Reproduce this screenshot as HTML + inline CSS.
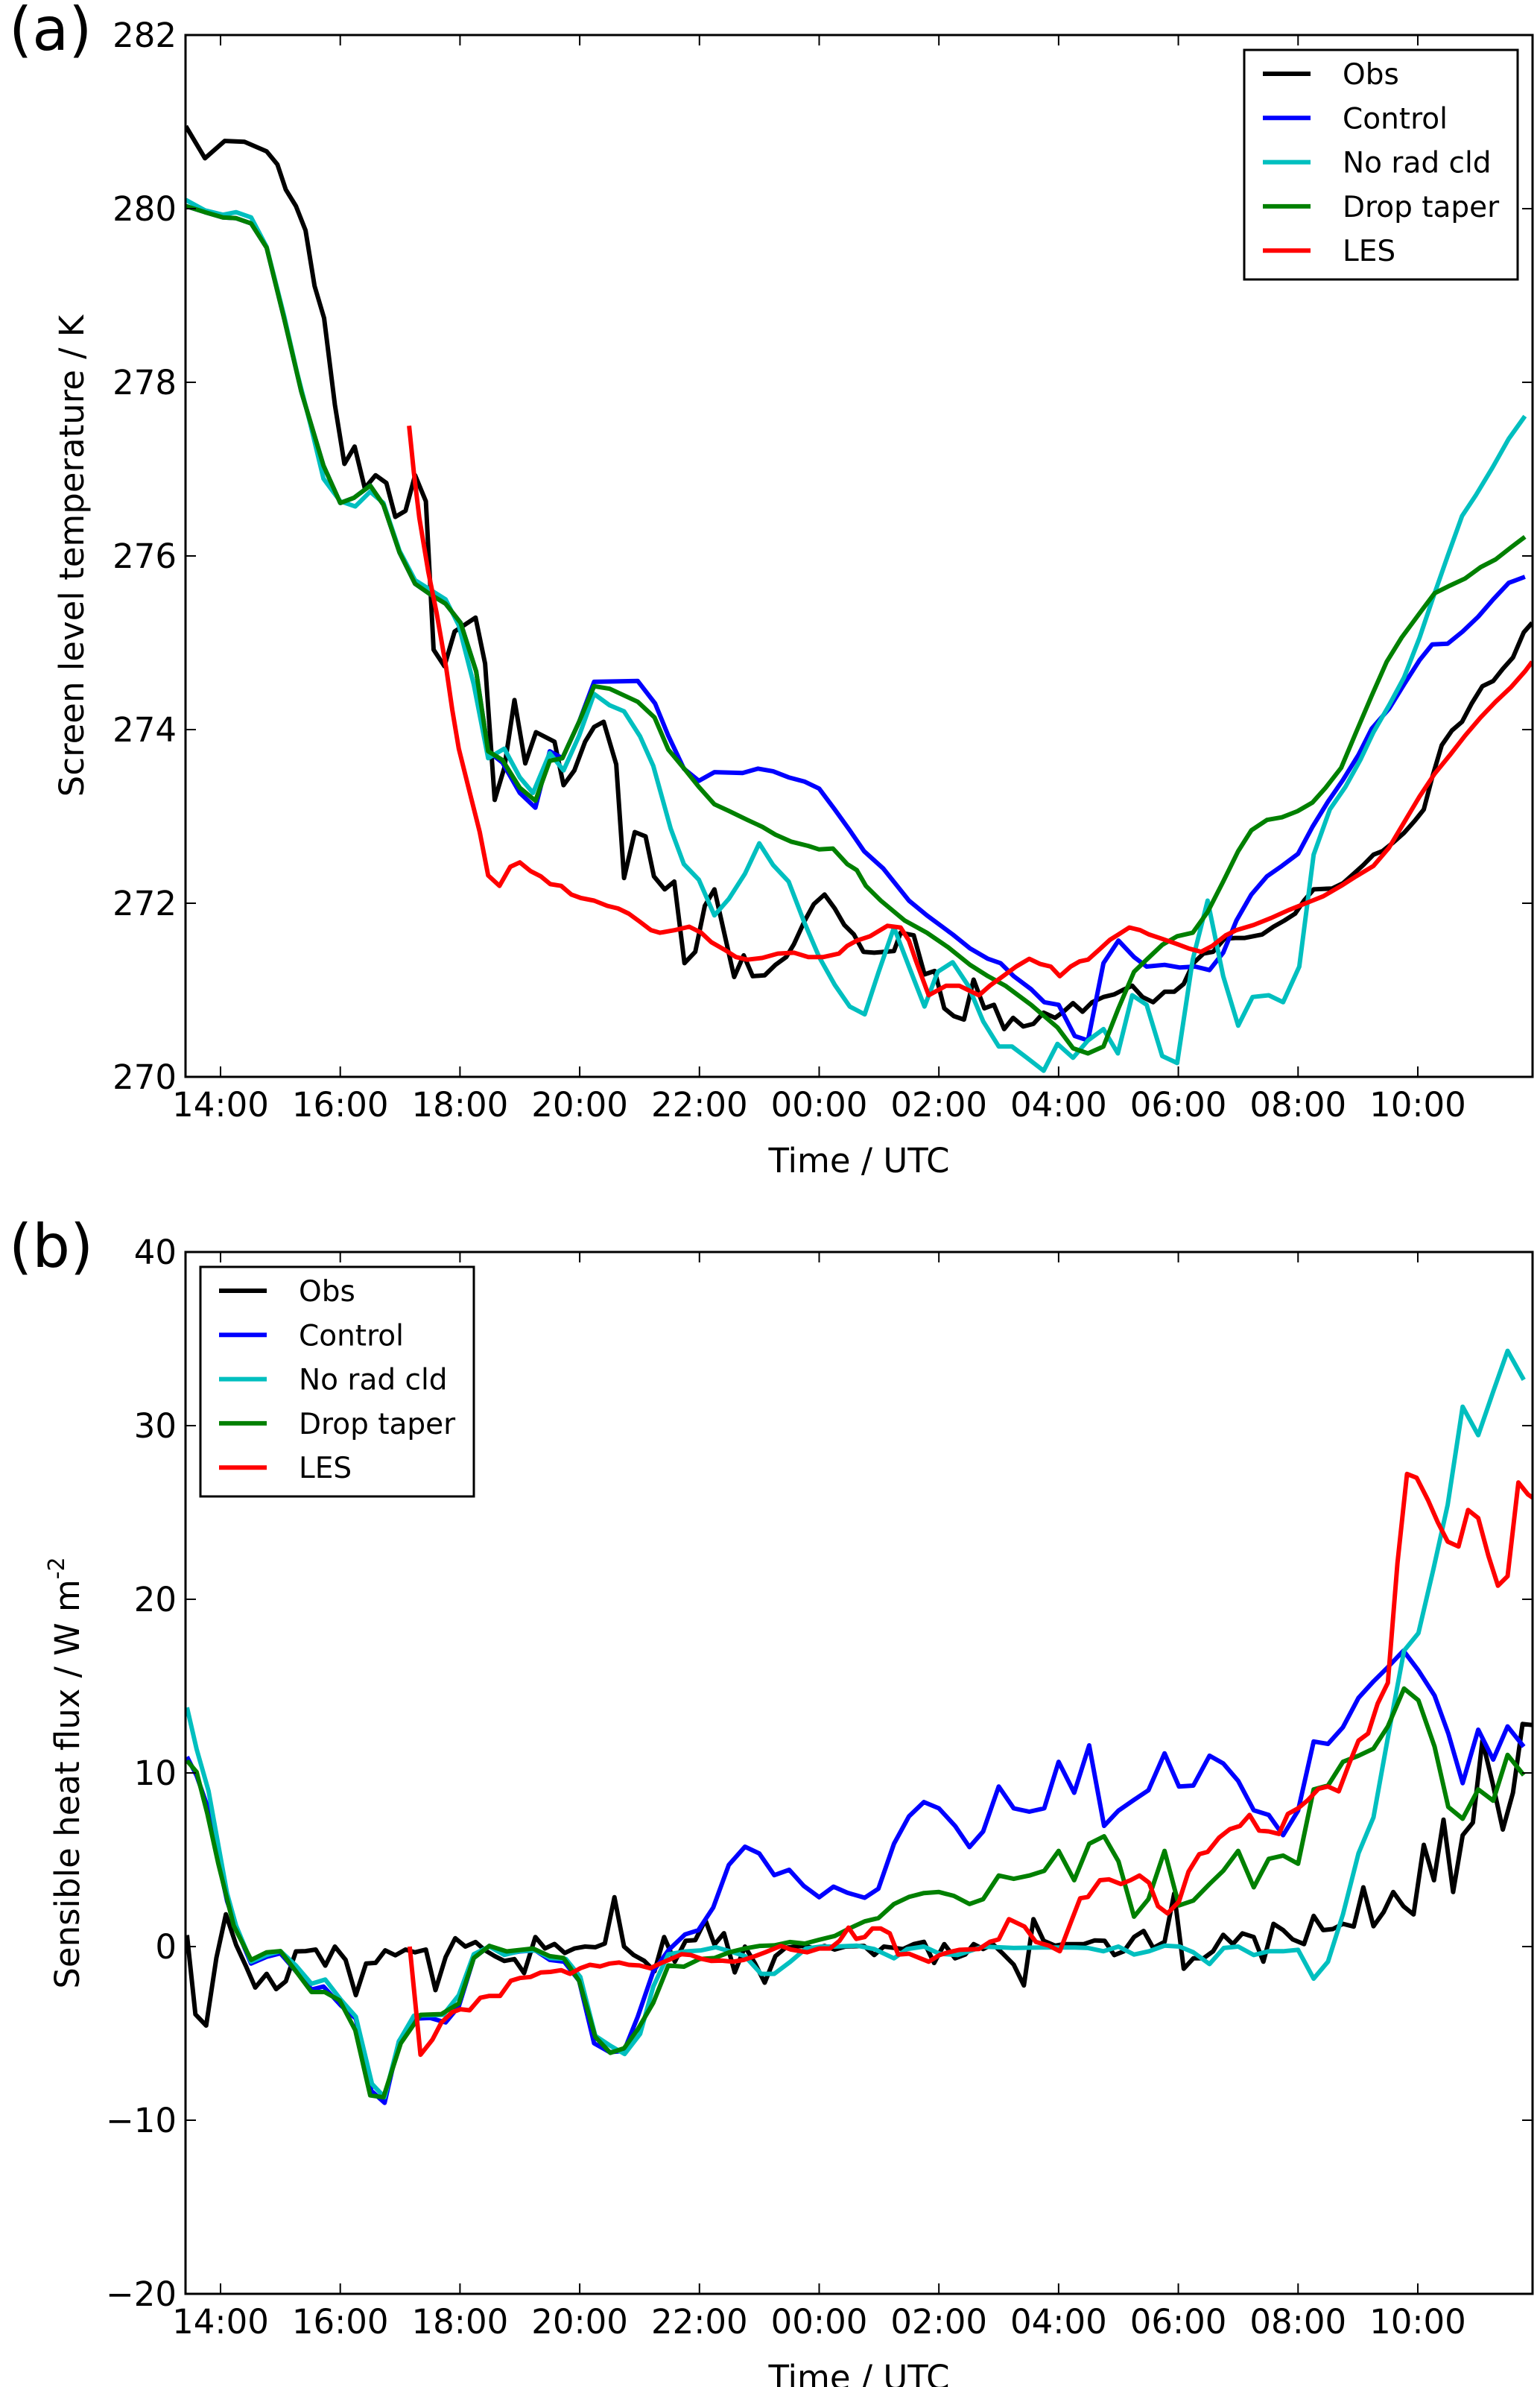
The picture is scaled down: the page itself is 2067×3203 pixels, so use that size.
<!DOCTYPE html>
<html><head><meta charset="utf-8"><title>Screen temperature and sensible heat flux</title>
<style>
html,body{margin:0;padding:0;background:#fff;}
svg{display:block;font-family:"DejaVu Sans","Liberation Sans",sans-serif;}
</style></head>
<body>
<svg id="fig" width="2067" height="3203" viewBox="0 0 2067 3203" xmlns="http://www.w3.org/2000/svg">
<rect x="0" y="0" width="2067" height="3203" fill="#fff"/>
<g id="panelA"></g>
<g id="panelB"></g>
</svg>
<script>
// ---------- shared ----------
const xTickHours = [14,16,18,20,22,24,26,28,30,32,34];
const xTickLabels = ["14:00","16:00","18:00","20:00","22:00","00:00","02:00","04:00","06:00","08:00","10:00"];
const seriesNames = ["Obs","Control","No rad cld","Drop taper","LES"];
const seriesColors = ["#000000","#0000ff","#00bfbf","#008000","#ff0000"];

// ---------- panel (a): screen level temperature ----------
const aTicks = [270,272,274,276,278,280,282];
const aObsT = [13.42,13.74,14.07,14.40,14.77,14.95,15.09,15.26,15.42,15.57,15.73,15.91,16.07,16.24,16.41,16.59,16.77,16.92,17.09,17.25,17.43,17.56,17.74,17.91,18.26,18.42,18.58,18.74,18.91,19.09,19.27,19.58,19.73,19.91,20.09,20.24,20.40,20.61,20.74,20.92,21.10,21.24,21.42,21.58,21.75,21.93,22.09,22.25,22.58,22.74,22.89,23.09,23.27,23.45,23.58,23.76,23.91,24.09,24.26,24.42,24.58,24.74,24.92,25.25,25.36,25.58,25.76,25.93,26.09,26.25,26.42,26.58,26.76,26.92,27.09,27.24,27.41,27.58,27.75,27.94,28.08,28.24,28.40,28.56,28.75,28.93,29.07,29.23,29.40,29.58,29.77,29.93,30.09,30.25,30.42,30.58,30.77,30.95,31.11,31.40,31.59,31.77,31.95,32.10,32.26,32.57,32.75,32.93,33.09,33.26,33.41,33.59,33.77,33.95,34.10,34.24,34.40,34.57,34.74,34.90,35.08,35.26,35.42,35.59,35.77,35.91];
const aObsV = [280.95,280.58,280.78,280.77,280.66,280.51,280.22,280.03,279.75,279.11,278.74,277.74,277.06,277.26,276.78,276.93,276.84,276.45,276.52,276.93,276.63,274.92,274.73,275.13,275.29,274.76,273.19,273.56,274.34,273.61,273.97,273.86,273.36,273.53,273.86,274.03,274.09,273.6,272.29,272.82,272.77,272.31,272.16,272.25,271.31,271.44,271.97,272.16,271.15,271.40,271.16,271.17,271.29,271.38,271.53,271.80,271.99,272.10,271.94,271.75,271.64,271.44,271.43,271.45,271.66,271.63,271.18,271.22,270.79,270.70,270.66,271.12,270.79,270.83,270.55,270.68,270.58,270.61,270.74,270.68,270.75,270.85,270.75,270.86,270.92,270.95,271.0,271.05,270.92,270.86,270.98,270.98,271.07,271.31,271.42,271.44,271.59,271.6,271.6,271.64,271.73,271.80,271.88,272.03,272.16,272.17,272.23,272.34,272.44,272.56,272.6,272.7,272.81,272.95,273.08,273.45,273.82,273.99,274.09,274.30,274.50,274.56,274.70,274.83,275.12,275.23];
const aCtlT = [13.42,13.74,14.04,14.26,14.51,14.77,15.06,15.35,15.72,16.0,16.23,16.50,16.72,16.99,17.25,17.50,17.76,18.01,18.27,18.47,18.71,19.0,19.26,19.50,19.71,19.99,20.24,20.97,21.26,21.48,21.74,21.99,22.25,22.72,22.98,23.23,23.49,23.76,24.0,24.26,24.51,24.75,25.07,25.5,25.80,26.23,26.52,26.82,27.03,27.25,27.54,27.76,28.0,28.27,28.49,28.75,29.0,29.26,29.47,29.77,30.02,30.28,30.52,30.75,30.97,31.22,31.48,31.73,32.0,32.24,32.50,32.75,33.01,33.23,33.52,33.77,34.03,34.24,34.50,34.75,35.01,35.26,35.52,35.79];
const aCtlV = [280.03,279.96,279.9,279.89,279.83,279.55,278.74,277.89,277.04,276.61,276.67,276.81,276.59,276.04,275.68,275.56,275.45,275.23,274.67,273.75,273.62,273.27,273.1,273.75,273.67,274.09,274.55,274.56,274.3,273.93,273.55,273.41,273.51,273.5,273.55,273.52,273.45,273.4,273.32,273.08,272.84,272.6,272.4,272.03,271.86,271.64,271.48,271.36,271.31,271.16,271.01,270.86,270.83,270.47,270.42,271.31,271.57,271.38,271.27,271.29,271.26,271.27,271.23,271.43,271.8,272.1,272.31,272.43,272.57,272.88,273.17,273.42,273.71,274.01,274.24,274.52,274.8,274.98,274.99,275.13,275.3,275.5,275.69,275.76];
const aNrcT = [13.42,13.74,14.04,14.26,14.51,14.77,15.06,15.28,15.50,15.72,16.0,16.25,16.50,16.72,16.99,17.25,17.76,17.98,18.23,18.47,18.74,19.0,19.22,19.50,19.73,19.99,20.24,20.50,20.74,21.01,21.23,21.52,21.74,21.99,22.25,22.49,22.76,23.0,23.23,23.49,23.74,24.0,24.26,24.51,24.76,24.99,25.25,25.5,25.76,25.98,26.23,26.49,26.74,27.0,27.22,27.47,27.75,27.98,28.24,28.49,28.75,28.99,29.23,29.47,29.73,29.98,30.24,30.49,30.75,31.0,31.24,31.51,31.75,32.02,32.26,32.53,32.79,33.04,33.26,33.52,33.77,34.03,34.24,34.50,34.74,34.97,35.25,35.52,35.79];
const aNrcV = [280.1,279.98,279.93,279.96,279.9,279.56,278.77,278.11,277.52,276.89,276.63,276.57,276.74,276.61,276.06,275.72,275.5,275.2,274.52,273.67,273.78,273.45,273.27,273.73,273.53,273.93,274.41,274.28,274.21,273.92,273.58,272.86,272.45,272.27,271.86,272.05,272.34,272.69,272.44,272.25,271.8,271.38,271.06,270.81,270.72,271.2,271.72,271.27,270.81,271.21,271.32,271.05,270.64,270.35,270.35,270.22,270.07,270.38,270.22,270.42,270.55,270.27,270.94,270.83,270.24,270.16,271.35,272.03,271.16,270.59,270.92,270.94,270.86,271.27,272.56,273.08,273.34,273.65,273.97,274.28,274.6,275.06,275.49,276.0,276.46,276.7,277.02,277.35,277.61];
const aDrpT = [13.42,13.74,14.04,14.26,14.51,14.77,15.06,15.35,15.72,16.0,16.23,16.50,16.72,16.99,17.25,17.50,17.76,18.01,18.27,18.47,18.71,19.0,19.26,19.50,19.71,19.99,20.24,20.50,20.97,21.25,21.48,21.77,21.99,22.25,22.50,22.80,23.05,23.27,23.53,23.82,24.0,24.23,24.47,24.63,24.78,25.03,25.43,25.80,26.16,26.52,26.82,27.11,27.54,27.98,28.24,28.49,28.75,29.0,29.26,29.47,29.73,29.98,30.24,30.49,30.75,31.0,31.22,31.48,31.73,31.99,32.24,32.46,32.72,32.97,33.23,33.48,33.73,34.03,34.28,34.54,34.79,35.05,35.30,35.56,35.79];
const aDrpV = [280.03,279.96,279.9,279.89,279.83,279.55,278.74,277.89,277.04,276.61,276.67,276.81,276.59,276.04,275.68,275.56,275.45,275.23,274.67,273.75,273.65,273.33,273.18,273.64,273.67,274.09,274.5,274.47,274.32,274.14,273.77,273.53,273.34,273.14,273.06,272.96,272.88,272.79,272.71,272.66,272.62,272.63,272.45,272.38,272.2,272.03,271.8,271.66,271.49,271.29,271.16,271.05,270.83,270.57,270.33,270.27,270.35,270.79,271.21,271.35,271.52,271.62,271.66,271.9,272.25,272.6,272.84,272.96,272.99,273.06,273.16,273.33,273.56,273.97,274.39,274.78,275.06,275.34,275.57,275.66,275.74,275.87,275.96,276.1,276.22];
const aLesT = [17.15,17.23,17.32,17.47,17.61,17.77,17.87,17.98,18.14,18.33,18.47,18.66,18.84,19.0,19.18,19.35,19.51,19.69,19.86,20.02,20.24,20.46,20.64,20.82,21.0,21.19,21.34,21.59,21.83,22.03,22.20,22.43,22.61,22.80,23.05,23.31,23.58,23.82,24.07,24.33,24.47,24.63,24.85,25.14,25.36,25.50,25.61,25.83,26.12,26.34,26.67,26.85,27.07,27.29,27.51,27.69,27.87,28.02,28.20,28.35,28.49,28.67,28.86,29.0,29.18,29.36,29.51,29.73,29.98,30.17,30.38,30.57,30.79,30.97,31.26,31.55,31.84,32.13,32.42,32.72,32.97,33.26,33.52,33.77,34.03,34.28,34.54,34.79,35.05,35.30,35.56,35.79,35.91];
const aLesV = [277.5,276.96,276.44,275.82,275.34,274.71,274.23,273.78,273.34,272.82,272.32,272.2,272.42,272.47,272.37,272.31,272.22,272.2,272.1,272.06,272.03,271.97,271.94,271.88,271.79,271.69,271.66,271.69,271.73,271.66,271.55,271.46,271.38,271.35,271.37,271.42,271.43,271.38,271.38,271.42,271.51,271.57,271.62,271.74,271.72,271.57,271.35,270.94,271.05,271.05,270.94,271.05,271.16,271.27,271.36,271.3,271.27,271.16,271.27,271.33,271.35,271.46,271.58,271.64,271.72,271.69,271.64,271.59,271.53,271.48,271.44,271.51,271.63,271.69,271.75,271.83,271.92,272.0,272.08,272.2,272.31,272.43,272.64,272.93,273.23,273.49,273.71,273.93,274.14,274.32,274.49,274.67,274.78];

// ---------- panel (b): sensible heat flux ----------
const bTicks = [-20,-10,0,10,20,30,40];
const bObsT = [13.44,13.58,13.76,13.93,14.09,14.26,14.42,14.58,14.77,14.93,15.09,15.26,15.42,15.59,15.75,15.91,16.09,16.26,16.43,16.59,16.75,16.92,17.09,17.25,17.43,17.59,17.76,17.92,18.09,18.26,18.42,18.58,18.74,18.91,19.07,19.26,19.42,19.58,19.75,19.91,20.09,20.26,20.42,20.58,20.74,20.90,21.08,21.25,21.41,21.59,21.77,21.93,22.10,22.25,22.41,22.59,22.76,22.93,23.09,23.27,23.44,23.60,23.76,23.93,24.09,24.26,24.44,24.75,24.92,25.08,25.40,25.58,25.75,25.92,26.09,26.27,26.44,26.58,26.74,26.90,27.07,27.25,27.42,27.58,27.75,27.94,28.09,28.42,28.60,28.77,28.93,29.09,29.26,29.42,29.58,29.77,29.93,30.09,30.25,30.42,30.58,30.75,30.91,31.07,31.26,31.42,31.59,31.75,31.91,32.10,32.26,32.42,32.58,32.75,32.93,33.09,33.26,33.43,33.59,33.76,33.93,34.10,34.27,34.43,34.59,34.75,34.92,35.08,35.25,35.42,35.59,35.75,35.91];
const bObsV = [0.66,-3.9,-4.55,-0.66,1.86,0.1,-1.1,-2.36,-1.57,-2.45,-2.0,-0.28,-0.26,-0.17,-1.1,0.0,-0.77,-2.8,-0.98,-0.94,-0.22,-0.5,-0.17,-0.33,-0.17,-2.51,-0.61,0.48,0.0,0.26,-0.22,-0.55,-0.83,-0.72,-1.53,0.55,-0.11,0.15,-0.37,-0.11,0.0,-0.04,0.17,2.84,0.0,-0.48,-0.83,-1.42,0.55,-0.87,0.33,0.37,1.53,0.11,0.77,-1.49,0.0,-0.98,-2.08,-0.55,-0.07,0.0,0.04,-0.11,0.04,-0.17,0.0,0.04,-0.49,0.0,-0.14,0.14,0.27,-0.95,0.14,-0.68,-0.46,0.14,-0.14,0.14,-0.41,-1.04,-2.24,1.58,0.33,0.05,0.14,0.14,0.35,0.33,-0.49,-0.27,0.55,0.9,-0.08,0.27,3.05,-1.28,-0.68,-0.68,-0.27,0.68,0.14,0.76,0.55,-0.87,1.31,0.95,0.41,0.14,1.77,0.95,1.01,1.31,1.15,3.41,1.17,1.99,3.14,2.32,1.85,5.86,3.82,7.31,3.14,6.41,7.14,11.86,9.41,6.74,8.86,12.82,12.76];
const bCtlT = [13.44,13.6,13.78,13.96,14.11,14.26,14.51,14.77,15.0,15.26,15.52,15.72,16.01,16.26,16.52,16.74,16.98,17.23,17.50,17.76,17.98,18.23,18.49,18.74,19.0,19.26,19.50,19.74,19.99,20.24,20.50,20.74,20.97,21.23,21.48,21.76,21.98,22.23,22.49,22.76,23.0,23.25,23.50,23.74,24.0,24.24,24.47,24.76,24.99,25.25,25.50,25.75,26.0,26.27,26.51,26.74,27.0,27.25,27.51,27.76,28.0,28.26,28.51,28.76,29.0,29.26,29.50,29.77,30.01,30.25,30.52,30.75,31.0,31.26,31.51,31.75,32.0,32.26,32.50,32.75,33.01,33.26,33.50,33.76,34.01,34.28,34.51,34.75,35.01,35.26,35.50,35.77];
const bCtlV = [10.93,9.84,8.09,5.03,2.62,1.09,-0.98,-0.59,-0.39,-1.42,-2.47,-2.3,-3.39,-4.15,-8.31,-9.0,-5.46,-4.15,-4.11,-4.37,-3.45,-0.66,0.04,-0.44,-0.28,-0.22,-0.77,-0.87,-1.97,-5.57,-6.08,-6.01,-4.04,-1.42,-0.22,0.7,0.94,2.25,4.7,5.75,5.36,4.11,4.42,3.5,2.84,3.45,3.1,2.81,3.33,5.92,7.5,8.32,7.96,6.95,5.73,6.63,9.22,7.96,7.77,7.96,10.64,8.86,11.59,6.95,7.83,8.45,9.0,11.13,9.22,9.27,10.99,10.55,9.54,7.85,7.58,6.41,7.83,11.81,11.67,12.63,14.32,15.27,16.09,17.04,15.9,14.45,12.27,9.41,12.49,10.77,12.68,11.51];
const bNrcT = [13.44,13.6,13.8,13.96,14.11,14.26,14.51,14.77,15.0,15.26,15.52,15.75,16.01,16.26,16.53,16.74,16.98,17.23,17.72,17.98,18.23,18.49,18.74,19.0,19.26,19.51,19.77,20.01,20.26,20.52,20.75,21.01,21.23,21.48,21.77,22.03,22.27,22.50,22.76,23.03,23.25,23.52,23.78,24.04,24.26,24.63,24.92,25.25,25.47,25.75,26.01,26.31,26.74,27.25,27.76,28.27,28.49,28.75,29.0,29.26,29.51,29.77,30.02,30.25,30.52,30.76,31.0,31.26,31.51,31.75,32.0,32.26,32.50,32.75,33.01,33.26,33.52,33.77,34.01,34.26,34.50,34.75,35.01,35.26,35.50,35.77];
const bNrcV = [13.77,11.37,8.96,5.9,3.06,1.2,-0.87,-0.48,-0.26,-1.09,-2.14,-1.9,-3.06,-4.04,-7.91,-8.68,-5.46,-3.98,-3.93,-2.8,-0.44,0,-0.48,-0.26,-0.22,-0.66,-0.72,-1.75,-5.14,-5.73,-6.19,-5.03,-2.3,-0.44,-0.28,-0.22,-0.04,-0.26,-0.55,-1.57,-1.57,-0.87,-0.11,0,0,0.05,-0.14,-0.68,-0.14,0,-0.41,-0.49,0,-0.08,-0.05,-0.05,-0.08,-0.27,0,-0.46,-0.27,0.05,0,-0.33,-1.01,-0.08,0,-0.49,-0.27,-0.27,-0.19,-1.85,-0.87,1.85,5.37,7.44,12.41,17.04,18.05,21.73,25.44,31.09,29.45,31.96,34.31,32.64];
const bDrpT = [13.44,13.6,13.78,13.96,14.22,14.51,14.77,15.0,15.26,15.52,15.74,15.99,16.25,16.50,16.72,17.01,17.34,17.69,17.98,18.23,18.49,18.78,19.22,19.50,19.73,19.99,20.26,20.51,20.74,20.97,21.23,21.48,21.74,22.0,22.25,22.50,22.76,23.01,23.25,23.51,23.76,24.0,24.26,24.51,24.76,24.99,25.25,25.50,25.75,26.0,26.25,26.51,26.74,27.0,27.25,27.51,27.76,28.0,28.26,28.51,28.76,29.0,29.26,29.50,29.77,30.01,30.25,30.52,30.75,31.0,31.26,31.51,31.75,32.0,32.26,32.50,32.75,33.01,33.26,33.50,33.77,34.01,34.28,34.51,34.75,35.01,35.26,35.50,35.77];
const bDrpV = [10.71,10.05,7.65,4.81,1.2,-0.77,-0.33,-0.26,-1.42,-2.62,-2.62,-3.1,-4.81,-8.57,-8.68,-5.57,-3.93,-3.89,-3.28,-0.66,0.04,-0.28,-0.11,-0.55,-0.66,-1.97,-5.2,-6.12,-5.86,-4.77,-3.23,-1.09,-1.16,-0.72,-0.66,-0.33,-0.11,0.04,0.07,0.26,0.17,0.39,0.61,1.05,1.45,1.64,2.45,2.86,3.08,3.14,2.92,2.45,2.73,4.09,3.9,4.09,4.36,5.51,3.82,5.92,6.35,4.91,1.72,2.73,5.51,2.37,2.65,3.6,4.36,5.51,3.41,5.05,5.24,4.77,9.05,9.27,10.64,10.99,11.4,12.68,14.86,14.18,11.51,8.04,7.36,9.05,8.4,11.04,9.87];
const bLesT = [17.16,17.34,17.54,17.69,17.87,18.01,18.16,18.34,18.49,18.67,18.85,19.0,19.18,19.35,19.51,19.69,19.84,20.01,20.17,20.34,20.50,20.66,20.82,21.0,21.18,21.34,21.52,21.70,21.85,22.03,22.20,22.37,22.56,22.74,22.93,23.10,23.36,23.53,23.80,24.0,24.18,24.34,24.49,24.62,24.76,24.89,25.03,25.18,25.32,25.50,25.69,25.83,26.01,26.16,26.34,26.67,26.85,27.0,27.17,27.43,27.62,27.84,28.02,28.20,28.36,28.49,28.69,28.84,29.04,29.20,29.35,29.51,29.66,29.82,30.01,30.17,30.35,30.49,30.68,30.86,31.03,31.19,31.35,31.51,31.68,31.83,32.0,32.17,32.34,32.50,32.68,32.85,33.01,33.17,33.33,33.50,33.66,33.82,33.98,34.17,34.33,34.50,34.68,34.84,35.01,35.18,35.34,35.50,35.68,35.84,35.92];
const bLesV = [0,-6.23,-5.36,-4.37,-3.78,-3.61,-3.67,-2.95,-2.84,-2.84,-1.97,-1.81,-1.75,-1.49,-1.46,-1.36,-1.57,-1.25,-1.05,-1.14,-0.98,-0.92,-1.05,-1.09,-1.25,-0.98,-0.72,-0.44,-0.48,-0.7,-0.83,-0.81,-0.87,-0.77,-0.55,-0.33,0.04,-0.17,-0.33,-0.11,-0.11,0.33,1.09,0.44,0.55,1.04,1.04,0.76,-0.46,-0.41,-0.68,-0.87,-0.49,-0.33,-0.19,-0.14,0.27,0.41,1.58,1.15,0.27,0.05,-0.27,1.36,2.78,2.86,3.82,3.87,3.6,3.82,4.09,3.68,2.32,1.91,2.59,4.31,5.32,5.45,6.27,6.76,6.95,7.58,6.68,6.63,6.49,7.64,7.96,8.45,9.08,9.22,8.94,10.5,11.86,12.27,13.99,15.19,22.09,27.22,27.0,25.72,24.46,23.32,23.04,25.14,24.68,22.5,20.78,21.33,26.73,26.04,25.85];

// ---------- layout ----------
const NS = "http://www.w3.org/2000/svg";
const X0 = 249, X1 = 2057, H0 = 13.415, H1 = 35.917;
function xScale(h){ return X0 + (h - H0) / (H1 - H0) * (X1 - X0); }
function mk(tag, attrs, parent){
  const e = document.createElementNS(NS, tag);
  for (const k in attrs) e.setAttribute(k, attrs[k]);
  parent.appendChild(e);
  return e;
}

function drawPanel(g, cfg){
  const yScale = v => cfg.yb - (v - cfg.vmin) / (cfg.vmax - cfg.vmin) * (cfg.yb - cfg.yt);
  const cp = mk("clipPath", {id: cfg.id + "clip"}, g);
  mk("rect", {x: X0, y: cfg.yt, width: X1 - X0, height: cfg.yb - cfg.yt}, cp);
  const sg = mk("g", {"clip-path": "url(#" + cfg.id + "clip)"}, g);
  cfg.series.forEach((s, i) => {
    const pts = s.t.map((h, j) => xScale(h).toFixed(1) + "," + yScale(s.v[j]).toFixed(1)).join(" ");
    const pl = mk("polyline", {points: pts, fill: "none", stroke: seriesColors[s.c], "stroke-width": 6, "stroke-linejoin": "round", "stroke-linecap": "butt"}, sg);
    
    
  });
  const fr = mk("rect", {x: X0, y: cfg.yt, width: X1 - X0, height: cfg.yb - cfg.yt, fill: "none", stroke: "#000", "stroke-width": 3}, g);
  
  
  xTickHours.forEach((h, i) => {
    const x = xScale(h);
    mk("line", {x1: x, y1: cfg.yb, x2: x, y2: cfg.yb - 14, stroke: "#000", "stroke-width": 2}, g);
    mk("line", {x1: x, y1: cfg.yt, x2: x, y2: cfg.yt + 14, stroke: "#000", "stroke-width": 2}, g);
    const t = mk("text", {x: x, y: cfg.yb + 53, "font-size": 45, "text-anchor": "middle"}, g);
    t.textContent = xTickLabels[i];
    
    
  });
  cfg.ticks.forEach(v => {
    const y = yScale(v);
    mk("line", {x1: X0, y1: y, x2: X0 + 14, y2: y, stroke: "#000", "stroke-width": 2}, g);
    mk("line", {x1: X1, y1: y, x2: X1 - 14, y2: y, stroke: "#000", "stroke-width": 2}, g);
    const t = mk("text", {x: 237, y: y + 16, "font-size": 45, "text-anchor": "end"}, g);
    t.textContent = (v < 0 ? "\u2212" + Math.abs(v) : String(v));
    
    
  });
  const xt = mk("text", {x: 1153, y: cfg.yb + 128, "font-size": 45, "text-anchor": "middle"}, g);
  xt.textContent = "Time / UTC";
  
  
  const ym = (cfg.yt + cfg.yb) / 2;
  const yt = mk("text", {x: 0, y: 0, "font-size": 45, "text-anchor": "middle", transform: "translate(" + cfg.ylx + "," + ym + ") rotate(-90)"}, g);
  yt.textContent = cfg.ylabel;
  if (cfg.ylabelSup) {
    const sp = mk("tspan", {"font-size": 30, dy: -20}, yt);
    sp.textContent = cfg.ylabelSup;
  }
  
  
  const pl = mk("text", {x: 12, y: cfg.yt + 20, "font-size": 80}, g);
  pl.textContent = cfg.letter;
  
  
  const lg = mk("g", {}, g);
  
  
  mk("rect", {x: cfg.lx, y: cfg.yt + 20, width: 367, height: 308, fill: "#fff", stroke: "#000", "stroke-width": 3}, lg);
  seriesNames.forEach((n, i) => {
    const y = cfg.yt + 52 + i * 59.3;
    const ln = mk("line", {x1: cfg.lx + 25, y1: y, x2: cfg.lx + 89, y2: y, stroke: seriesColors[i], "stroke-width": 6}, lg);
    
    
    const t = mk("text", {x: cfg.lx + 132, y: y + 14, "font-size": 39}, lg);
    t.textContent = n;
    
    
  });
}

drawPanel(document.getElementById("panelA"), {
  id: "panel-a", yt: 47, yb: 1445, vmin: 270, vmax: 282, ticks: aTicks, ylx: 112,
  ylabel: "Screen level temperature / K", letter: "(a)", lx: 1670,
  series: [{t: aObsT, v: aObsV, c: 0},{t: aCtlT, v: aCtlV, c: 1},{t: aNrcT, v: aNrcV, c: 2},{t: aDrpT, v: aDrpV, c: 3},{t: aLesT, v: aLesV, c: 4}]
});
drawPanel(document.getElementById("panelB"), {
  id: "panel-b", yt: 1680, yb: 3078, vmin: -20, vmax: 40, ticks: bTicks, ylx: 106,
  ylabel: "Sensible heat flux / W m", ylabelSup: "-2", letter: "(b)", lx: 269,
  series: [{t: bObsT, v: bObsV, c: 0},{t: bCtlT, v: bCtlV, c: 1},{t: bNrcT, v: bNrcV, c: 2},{t: bDrpT, v: bDrpV, c: 3},{t: bLesT, v: bLesV, c: 4}]
});
</script>
</body></html>
